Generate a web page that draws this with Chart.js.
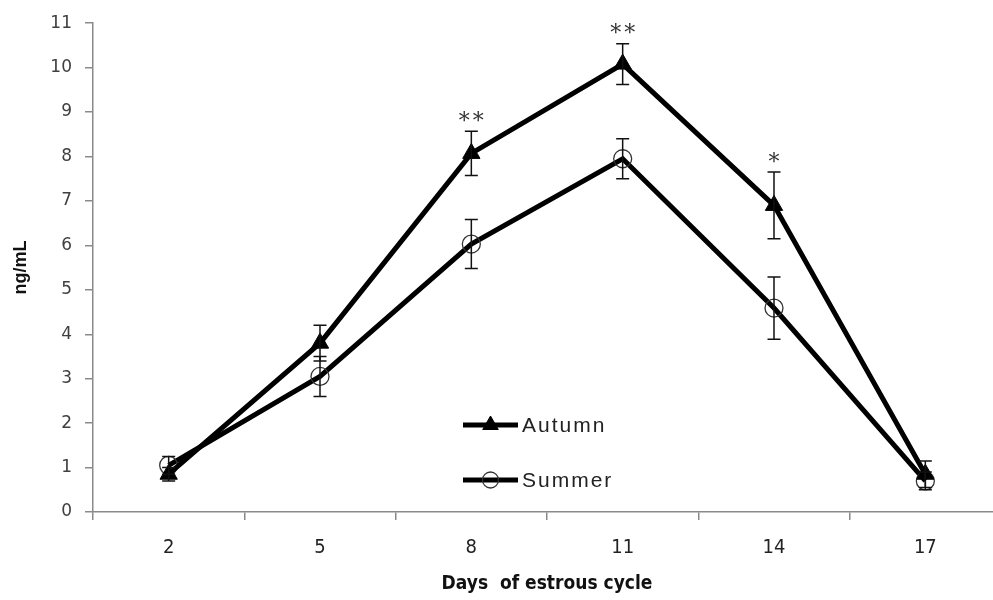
<!DOCTYPE html>
<html>
<head>
<meta charset="utf-8">
<script src="https://cdn.jsdelivr.net/npm/chart.js@4.4.0/dist/chart.umd.min.js"></script>
<style>
  html, body { margin: 0; padding: 0; background: #fff; overflow: hidden; }
  #wrap { width: 1012px; height: 600px; }
</style>
</head>
<body>
<div id="wrap"><canvas id="chart" width="1012" height="600"></canvas></div>
<script>
// Days of estrous cycle (categories)
const days = ["2", "5", "8", "11", "14", "17"];

// Autumn series (filled triangles) and its error
const autumn = [0.85, 3.8, 8.07, 10.08, 6.9, 0.85];
const autumnErr = [0.15, 0.4, 0.5, 0.46, 0.75, 0.3];

// Summer series (open circles) and its error
const summer = [1.05, 3.05, 6.03, 7.95, 4.59, 0.7];
const summerErr = [0.2, 0.45, 0.55, 0.45, 0.7, 0.2];

// significance marks above the autumn points
const marks = ["", "", "**", "**", "*", ""];

const yMin = 0, yMax = 11, yStep = 1;

// error bars + asterisks
const errorBars = {
  id: "errorBars",
  afterDatasetsDraw(chart) {
    const ctx = chart.ctx;
    const xs = chart.scales.x, ys = chart.scales.y;
    ctx.save();
    ctx.strokeStyle = "#111";
    ctx.lineWidth = 1.5;
    [[autumn, autumnErr], [summer, summerErr]].forEach(([vals, errs]) => {
      vals.forEach((v, i) => {
        const px = xs.getPixelForValue(i);
        const top = ys.getPixelForValue(v + errs[i]);
        const bot = ys.getPixelForValue(v - errs[i]);
        ctx.beginPath();
        ctx.moveTo(px, top); ctx.lineTo(px, bot);
        ctx.moveTo(px - 6.5, top); ctx.lineTo(px + 6.5, top);
        ctx.moveTo(px - 6.5, bot); ctx.lineTo(px + 6.5, bot);
        ctx.stroke();
      });
    });
    // asterisks
    ctx.fillStyle = "#333";
    ctx.font = "22px 'DejaVu Serif'";
    ctx.textAlign = "center";
    ctx.textBaseline = "middle";
    ctx.letterSpacing = "3px";
    marks.forEach((m, i) => {
      if (!m) return;
      const px = xs.getPixelForValue(i);
      const top = ys.getPixelForValue(autumn[i] + autumnErr[i]);
      ctx.fillText(m, px + 1.5, top - 9);
    });
    ctx.restore();
  }
};

// legend drawn inside the plot
const insideLegend = {
  id: "insideLegend",
  afterDraw(chart) {
    const ctx = chart.ctx;
    const items = [
      { text: "Autumn", style: "triangle", fill: "#000", stroke: "#000", r: 9, bw: 1, y: 425 },
      { text: "Summer", style: "circle", fill: "rgba(0,0,0,0)", stroke: "#333", r: 8, bw: 1.3, y: 480 }
    ];
    ctx.save();
    items.forEach((it) => {
      ctx.strokeStyle = "#000";
      ctx.lineWidth = 5;
      ctx.beginPath();
      ctx.moveTo(463, it.y); ctx.lineTo(518, it.y);
      ctx.stroke();
      ctx.fillStyle = it.fill;
      ctx.strokeStyle = it.stroke;
      ctx.lineWidth = it.bw;
      Chart.helpers.drawPoint(ctx, { pointStyle: it.style, radius: it.r, borderWidth: it.bw, rotation: 0 }, 490.5, it.y);
      ctx.fillStyle = "#222";
      ctx.font = "21px 'Liberation Sans'";
      ctx.textAlign = "left";
      ctx.textBaseline = "middle";
      ctx.letterSpacing = "2px";
      ctx.fillText(it.text, 522, it.y + 1);
    });
    ctx.restore();
  }
};

const ctx = document.getElementById("chart").getContext("2d");
new Chart(ctx, {
  type: "line",
  data: {
    labels: days,
    datasets: [
      {
        label: "Autumn",
        data: autumn,
        borderColor: "#000",
        borderWidth: 5,
        pointStyle: "triangle",
        pointRadius: 10,
        pointBackgroundColor: "#000",
        pointBorderColor: "#000",
        pointBorderWidth: 1,
        tension: 0
      },
      {
        label: "Summer",
        data: summer,
        borderColor: "#000",
        borderWidth: 5,
        pointStyle: "circle",
        pointRadius: 9,
        pointBackgroundColor: "rgba(0,0,0,0)",
        pointBorderColor: "#333",
        pointBorderWidth: 1.3,
        tension: 0
      }
    ]
  },
  options: {
    responsive: false,
    animation: false,
    layout: { padding: { top: 9, right: 1, left: 0, bottom: 0 } },
    plugins: {
      legend: { display: false },
      tooltip: { enabled: false }
    },
    scales: {
      x: {
        offset: true,
        afterFit: (s) => { s.height = 88; },
        grid: { display: true, drawOnChartArea: false, offset: true, tickLength: 8, color: "#8a8a8a", lineWidth: 1.5 },
        border: { color: "#8a8a8a", width: 1.5 },
        ticks: { color: "#222", padding: 16, font: { family: "'Liberation Sans Narrow', 'DejaVu Sans Condensed', sans-serif", size: 20 } },
        title: {
          display: true,
          text: "Days  of estrous cycle",
          color: "#111",
          padding: { top: 0, bottom: 5 },
          font: { family: "'Liberation Sans Narrow', 'DejaVu Sans Condensed', sans-serif", size: 19, weight: "bold" }
        }
      },
      y: {
        min: yMin,
        max: yMax,
        afterFit: (s) => { s.width = 93; },
        grid: { display: true, drawOnChartArea: false, tickLength: 8, color: "#8a8a8a", lineWidth: 1.5 },
        border: { color: "#8a8a8a", width: 1.5 },
        ticks: { stepSize: yStep, color: "#404040", padding: 13, font: { family: "'DejaVu Sans', sans-serif", size: 17 } },
        title: {
          display: true,
          text: "ng/mL",
          color: "#111",
          padding: { top: 10, bottom: 0 },
          font: { family: "'Liberation Sans', sans-serif", size: 18, weight: "bold" }
        }
      }
    }
  },
  plugins: [errorBars, insideLegend]
});
</script>
</body>
</html>
